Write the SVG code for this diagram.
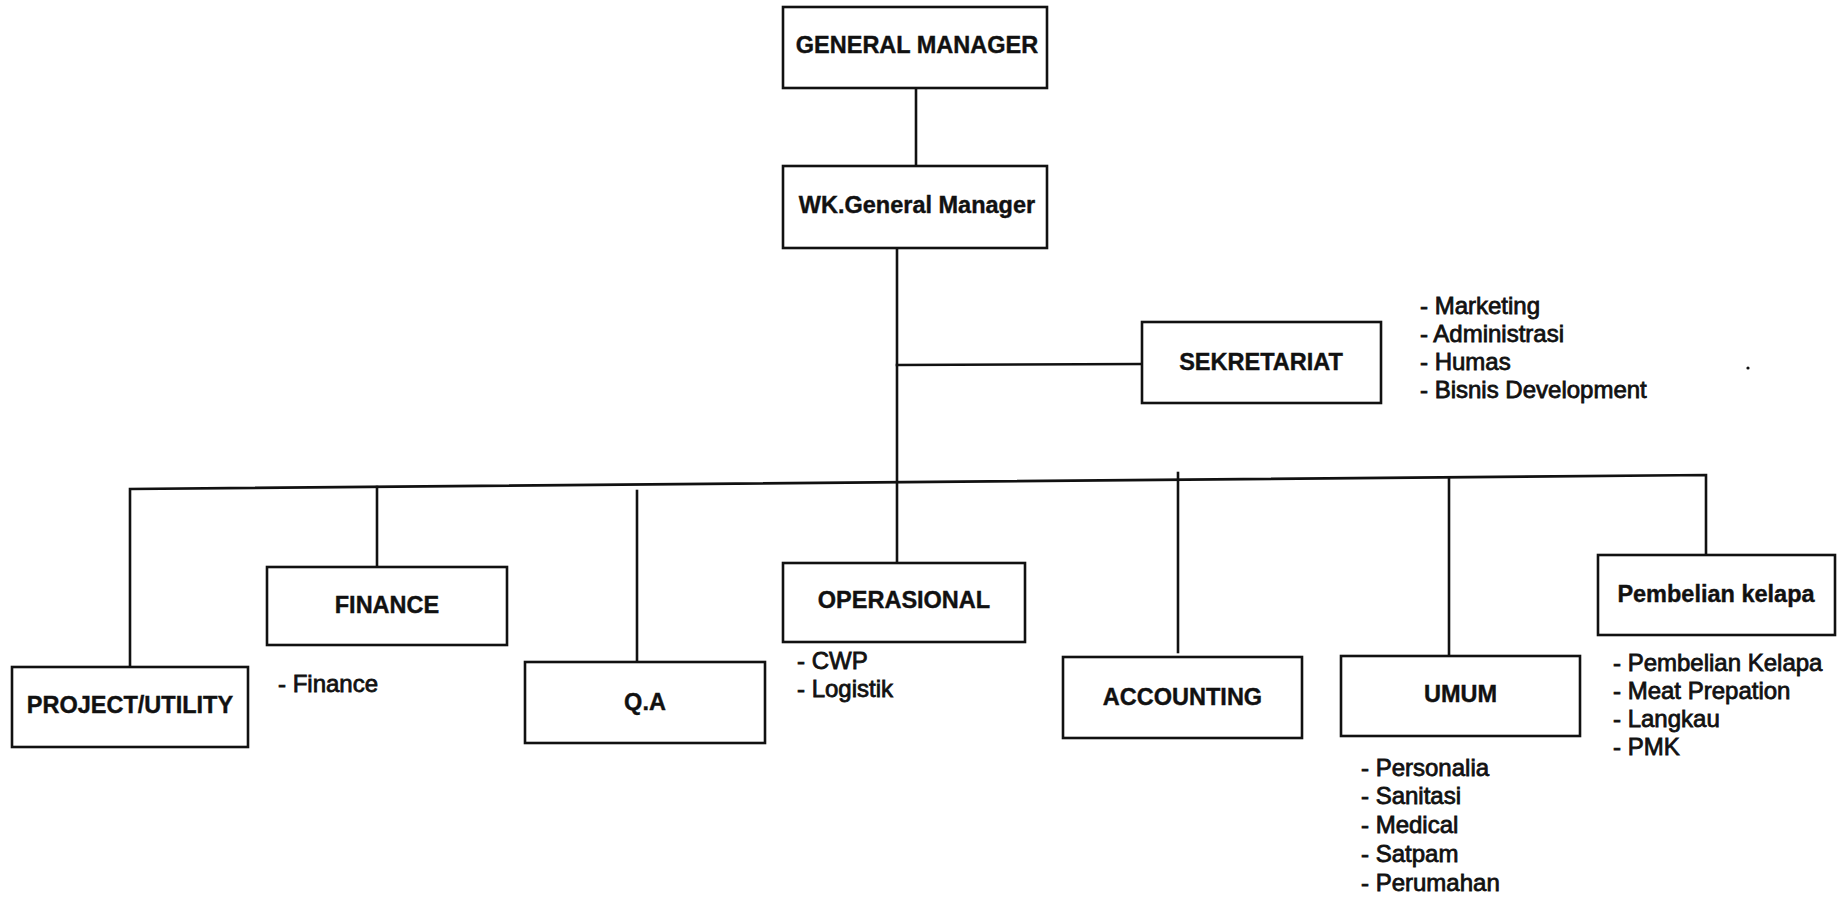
<svg xmlns="http://www.w3.org/2000/svg" width="1843" height="897" viewBox="0 0 1843 897">
<style>
.box{fill:#fff;stroke:#111;stroke-width:2.6}
.ln{fill:none;stroke:#111;stroke-width:2.6;stroke-linecap:square}
.lbl{font-family:"Liberation Sans",Arial,sans-serif;font-weight:bold;font-size:23.5px;fill:#111;text-anchor:middle;stroke:#111;stroke-width:0.4}
.lst{font-family:"Liberation Sans",Arial,sans-serif;font-size:24px;fill:#111;stroke:#111;stroke-width:0.8}
</style>
<rect width="1843" height="897" fill="#fff"/>
<g id="connectors">
<line class="ln" x1="916" y1="88" x2="916" y2="166"/>
<line class="ln" x1="897" y1="248" x2="897" y2="566"/>
<line class="ln" x1="897" y1="365" x2="1142" y2="364"/>
<polyline class="ln" points="130,667 130,489 1706,475 1706,555"/>
<line class="ln" x1="377" y1="487" x2="377" y2="567"/>
<line class="ln" x1="637" y1="491" x2="637" y2="665"/>
<line class="ln" x1="1178" y1="473" x2="1178" y2="652"/>
<line class="ln" x1="1449" y1="478" x2="1449" y2="656"/>
</g>
<g id="general-manager">
<rect class="box" x="783" y="7" width="264" height="81"/>
<text class="lbl" x="917" y="53">GENERAL MANAGER</text>
</g>
<g id="wk-general-manager">
<rect class="box" x="783" y="166" width="264" height="82"/>
<text class="lbl" x="917" y="213">WK.General Manager</text>
</g>
<g id="sekretariat">
<rect class="box" x="1142" y="322" width="239" height="81"/>
<text class="lbl" x="1261" y="370">SEKRETARIAT</text>
<text class="lst" x="1420" y="314">- Marketing</text>
<text class="lst" x="1420" y="342">- Administrasi</text>
<text class="lst" x="1420" y="370">- Humas</text>
<text class="lst" x="1420" y="398">- Bisnis Development</text>
</g>
<g id="project-utility">
<rect class="box" x="12" y="667" width="236" height="80"/>
<text class="lbl" x="130" y="713">PROJECT/UTILITY</text>
</g>
<g id="finance">
<rect class="box" x="267" y="567" width="240" height="78"/>
<text class="lbl" x="387" y="613">FINANCE</text>
<text class="lst" x="278" y="692">- Finance</text>
</g>
<g id="qa">
<rect class="box" x="525" y="662" width="240" height="81"/>
<text class="lbl" x="645" y="710">Q.A</text>
</g>
<g id="operasional">
<rect class="box" x="783" y="563" width="242" height="79"/>
<text class="lbl" x="904" y="608">OPERASIONAL</text>
<text class="lst" x="797" y="669">- CWP</text>
<text class="lst" x="797" y="697">- Logistik</text>
</g>
<g id="accounting">
<rect class="box" x="1063" y="657" width="239" height="81"/>
<text class="lbl" x="1182.5" y="705">ACCOUNTING</text>
</g>
<g id="umum">
<rect class="box" x="1341" y="656" width="239" height="80"/>
<text class="lbl" x="1460.5" y="702">UMUM</text>
<text class="lst" x="1361" y="776">- Personalia</text>
<text class="lst" x="1361" y="804">- Sanitasi</text>
<text class="lst" x="1361" y="833">- Medical</text>
<text class="lst" x="1361" y="862">- Satpam</text>
<text class="lst" x="1361" y="891">- Perumahan</text>
</g>
<g id="pembelian-kelapa">
<rect class="box" x="1598" y="555" width="237" height="80"/>
<text class="lbl" x="1716" y="602">Pembelian kelapa</text>
<text class="lst" x="1613" y="671">- Pembelian Kelapa</text>
<text class="lst" x="1613" y="699">- Meat Prepation</text>
<text class="lst" x="1613" y="727">- Langkau</text>
<text class="lst" x="1613" y="755">- PMK</text>
</g>
<circle cx="1748" cy="368" r="1.6" fill="#111"/>
</svg>
